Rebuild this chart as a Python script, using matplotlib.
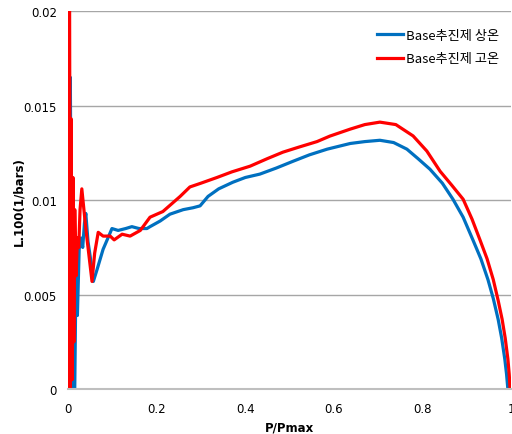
import matplotlib
matplotlib.use("Agg")
import matplotlib.pyplot as plt

plt.rcParams['font.family'] = ['Noto Sans CJK KR', 'DejaVu Sans']

# data
blue_x = [0.0, 0.003, 0.005, 0.008, 0.012, 0.015, 0.018, 0.021, 0.025, 0.029, 0.033, 0.037, 0.040,
          0.045, 0.050, 0.057, 0.065, 0.079, 0.090, 0.099, 0.113, 0.13, 0.144, 0.16, 0.178, 0.185,
          0.208, 0.230, 0.260, 0.282, 0.298, 0.316, 0.34, 0.372, 0.40, 0.433, 0.47, 0.508, 0.545,
          0.585, 0.637, 0.67, 0.704, 0.735, 0.765, 0.79, 0.817, 0.845, 0.869, 0.892, 0.914, 0.932,
          0.948, 0.960, 0.971, 0.979, 0.986, 0.990, 0.993]
blue_y = [0.0, 0.0, 0.0165, 0.004, 0.0, 0.0, 0.0066, 0.0039, 0.0074, 0.0080, 0.0075, 0.0088, 0.0093,
          0.0078, 0.0070, 0.0057, 0.0063, 0.0074, 0.0080, 0.0085, 0.0084, 0.0085, 0.0086, 0.0085, 0.0085, 0.0086,
          0.0089, 0.00926, 0.0095, 0.0096, 0.0097, 0.0102, 0.0106, 0.01095, 0.0112, 0.01138, 0.0117, 0.01206, 0.0124,
          0.0127, 0.0130, 0.01310, 0.01317, 0.01305, 0.0127, 0.0122, 0.01164, 0.0109, 0.01005, 0.0091, 0.0079, 0.0069,
          0.0058, 0.0048, 0.0037, 0.0027, 0.0016, 0.0008, 0.0]

red_x = [0.001, 0.003, 0.005, 0.007, 0.009, 0.011, 0.013, 0.015, 0.018, 0.021, 0.024, 0.027, 0.031,
         0.040, 0.054, 0.060, 0.068, 0.079, 0.095, 0.104, 0.122, 0.14, 0.163, 0.185, 0.214, 0.253,
         0.275, 0.30, 0.336, 0.37, 0.411, 0.45, 0.485, 0.52, 0.562, 0.591, 0.637, 0.67, 0.704,
         0.74, 0.779, 0.81, 0.840, 0.866, 0.892, 0.912, 0.930, 0.946, 0.960, 0.971, 0.980, 0.987,
         0.993, 0.996, 0.998]
red_y = [0.0, 0.025, 0.0, 0.0143, 0.0005, 0.0112, 0.0025, 0.0095, 0.0060, 0.0080, 0.0075, 0.0095, 0.0106,
         0.0085, 0.0057, 0.0072, 0.0083, 0.0081, 0.0081, 0.0079, 0.0082, 0.0081, 0.0084, 0.0091, 0.0094, 0.0102,
         0.0107, 0.0109, 0.0112, 0.0115, 0.0118, 0.0122, 0.01254, 0.0128, 0.0131, 0.01339, 0.01376, 0.0140, 0.01413,
         0.0140, 0.0134, 0.0126, 0.01153, 0.0108, 0.01005, 0.0090, 0.0079, 0.0069, 0.0058, 0.0047, 0.0037, 0.0027,
         0.0016, 0.0008, 0.0]

fig = plt.figure(figsize=(5.12, 4.35), dpi=100)
ax = fig.add_axes([0.133, 0.103, 0.865, 0.869])

ax.plot(blue_x, blue_y, color='#0070C0', lw=2.3, label='Base추진제 상온')
ax.plot(red_x, red_y, color='#FF0000', lw=2.3, label='Base추진제 고온')

ax.set_xlim(0, 1)
ax.set_ylim(0, 0.02)
ax.set_xticks([0, 0.2, 0.4, 0.6, 0.8, 1])
ax.set_xticklabels(['0', '0.2', '0.4', '0.6', '0.8', '1'])
ax.set_yticks([0, 0.005, 0.01, 0.015, 0.02])
ax.set_yticklabels(['0', '0.005', '0.01', '0.015', '0.02'])
ax.tick_params(axis='y', length=0, labelsize=8.5, pad=8)
ax.tick_params(axis='x', length=0, labelsize=8.5, pad=9)
for lbl in ax.get_xticklabels() + ax.get_yticklabels():
    lbl.set_family('DejaVu Sans')

ax.grid(axis='y', color='#A6A6A6', lw=1)
ax.set_axisbelow(True)
for s in ['top', 'right', 'left']:
    ax.spines[s].set_visible(False)
ax.spines['bottom'].set_color('#BFBFBF')
ax.spines['bottom'].set_linewidth(1.5)

ax.set_xlabel('P/Pmax', fontsize=8.5, fontweight='bold', family='DejaVu Sans')
ax.set_ylabel('L.100(1/bars)', fontsize=8.5, fontweight='bold', family='DejaVu Sans')
ax.xaxis.set_label_coords(0.5, -0.083)
ax.yaxis.set_label_coords(-0.097, 0.5)

ax.legend(loc='upper right', frameon=False, fontsize=9.5, handlelength=2.0, handletextpad=0.2,
          labelspacing=0.8, bbox_to_anchor=(1.0, 0.985))

fig.savefig('out.png', dpi=100)
